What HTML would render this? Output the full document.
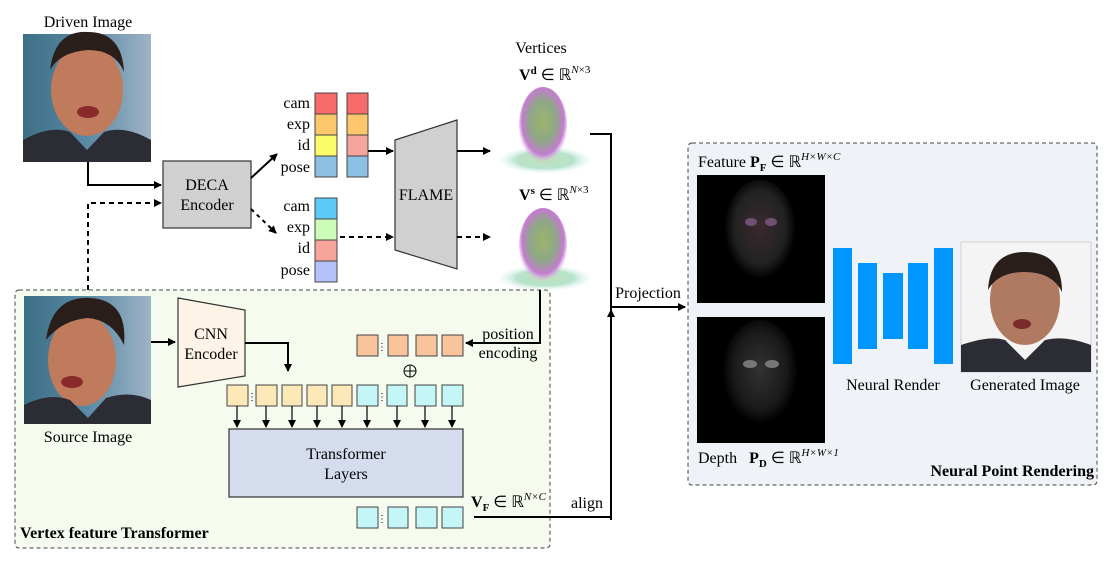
<!DOCTYPE html>
<html><head><meta charset="utf-8"><style>
html,body{margin:0;padding:0;background:#fff;}
svg{display:block;font-family:"Liberation Serif",serif;}
</style></head><body>
<svg width="1116" height="561" viewBox="0 0 1116 561" xmlns="http://www.w3.org/2000/svg">
<defs>
<marker id="ah" markerWidth="8" markerHeight="8" refX="7" refY="4" orient="auto" markerUnits="userSpaceOnUse"><path d="M0,0 L8,4 L0,8 z" fill="#000"/></marker>
<linearGradient id="bg1" x1="0" y1="0" x2="1" y2="0"><stop offset="0" stop-color="#3d6f86"/><stop offset="0.5" stop-color="#5a8aa5"/><stop offset="1" stop-color="#9fb3c6"/></linearGradient>
<radialGradient id="head" cx="0.5" cy="0.45" r="0.55"><stop offset="0" stop-color="#7a9a3a"/><stop offset="0.5" stop-color="#6a8a60"/><stop offset="0.8" stop-color="#b050c0"/><stop offset="1" stop-color="#e0a0e8" stop-opacity="0"/></radialGradient>
<radialGradient id="head2" cx="0.5" cy="0.5" r="0.5"><stop offset="0" stop-color="#70c060"/><stop offset="0.6" stop-color="#60c090"/><stop offset="1" stop-color="#c0f0e0" stop-opacity="0"/></radialGradient>
<radialGradient id="fface" cx="0.5" cy="0.45" r="0.5"><stop offset="0" stop-color="#3a2a30"/><stop offset="0.7" stop-color="#222"/><stop offset="1" stop-color="#000"/></radialGradient>
<radialGradient id="dface" cx="0.5" cy="0.45" r="0.5"><stop offset="0" stop-color="#333"/><stop offset="0.7" stop-color="#1a1a1a"/><stop offset="1" stop-color="#000"/></radialGradient>
</defs>

<rect x="15" y="290" width="535" height="258" rx="4" fill="#f5fbee" stroke="#444" stroke-dasharray="4,3"/>
<rect x="688" y="143" width="409" height="342" rx="4" fill="#eff2f7" stroke="#444" stroke-dasharray="4,3"/>

<text x="88" y="27" font-size="16" text-anchor="middle">Driven Image</text>
<rect x="23" y="34" width="128" height="128" fill="url(#bg1)"/>
<ellipse cx="87" cy="90" rx="36" ry="46" fill="#c07a5c"/>
<path d="M50,70 Q55,30 88,32 Q122,32 124,72 Q115,50 88,50 Q60,52 50,70z" fill="#2a1e1a"/>
<path d="M23,162 L23,140 Q50,125 70,132 L87,150 L104,132 Q125,125 151,140 L151,162z" fill="#2c2c35"/>
<ellipse cx="88" cy="112" rx="11" ry="6" fill="#8a2a2a"/>

<rect x="163" y="161" width="88" height="67" fill="#d0d0d0" stroke="#333" stroke-width="1.2"/>
<text x="207" y="190" font-size="16" text-anchor="middle">DECA</text>
<text x="207" y="210" font-size="16" text-anchor="middle">Encoder</text>
<path d="M88,162 V185 H161" fill="none" stroke="#000" stroke-width="2" marker-end="url(#ah)"/>
<path d="M88,290 V203 H161" fill="none" stroke="#000" stroke-width="2" stroke-dasharray="5,4" marker-end="url(#ah)"/>
<path d="M251,178 L277,154" fill="none" stroke="#000" stroke-width="2" marker-end="url(#ah)"/>
<path d="M251,209 L276,233" fill="none" stroke="#000" stroke-width="2" stroke-dasharray="4,4" marker-end="url(#ah)"/>

<g font-size="16" text-anchor="end">
<text x="310" y="108">cam</text><text x="310" y="129">exp</text><text x="310" y="150">id</text><text x="310" y="172">pose</text>
<text x="310" y="211">cam</text><text x="310" y="232">exp</text><text x="310" y="253">id</text><text x="310" y="275">pose</text>
</g>
<g stroke="#444" stroke-width="1">
<rect x="315" y="93" width="22" height="21" fill="#f86b6b"/><rect x="315" y="114" width="22" height="21" fill="#fdc86b"/><rect x="315" y="135" width="22" height="21" fill="#fcfc6b"/><rect x="315" y="156" width="22" height="21" fill="#8cc0e4"/>
<rect x="347" y="93" width="21" height="21" fill="#f86b6b"/><rect x="347" y="114" width="21" height="21" fill="#fdc86b"/><rect x="347" y="135" width="21" height="21" fill="#f4a49c"/><rect x="347" y="156" width="21" height="21" fill="#8cc0e4"/>
<rect x="315" y="198" width="22" height="21" fill="#5ccaf8"/><rect x="315" y="219" width="22" height="21" fill="#cdfbb8"/><rect x="315" y="240" width="22" height="21" fill="#f7a49b"/><rect x="315" y="261" width="22" height="21" fill="#b4c4fb"/>
</g>
<path d="M368,151 H393" stroke="#000" stroke-width="2" marker-end="url(#ah)"/>
<path d="M340,237 H393" stroke="#000" stroke-width="2" stroke-dasharray="5,4" marker-end="url(#ah)"/>

<path d="M395,140 L457,120 L457,269 L395,250z" fill="#d0d0d0" stroke="#333" stroke-width="1.2"/>
<text x="426" y="200" font-size="16" text-anchor="middle">FLAME</text>
<path d="M457,151 H490" stroke="#000" stroke-width="2" marker-end="url(#ah)"/>
<path d="M457,237 H490" stroke="#000" stroke-width="2" stroke-dasharray="5,4" marker-end="url(#ah)"/>

<text x="541" y="53" font-size="16" text-anchor="middle">Vertices</text>
<text x="519" y="80" font-size="16"><tspan font-weight="bold">V</tspan><tspan font-weight="bold" font-size="11" dy="-6">d</tspan><tspan dy="6"> ∈ ℝ</tspan><tspan font-size="11" dy="-7" font-style="italic">N</tspan><tspan font-size="11">×3</tspan></text>
<text x="519" y="200" font-size="16"><tspan font-weight="bold">V</tspan><tspan font-weight="bold" font-size="11" dy="-6">s</tspan><tspan dy="6"> ∈ ℝ</tspan><tspan font-size="11" dy="-7" font-style="italic">N</tspan><tspan font-size="11">×3</tspan></text>
<g opacity="0.75">
<ellipse cx="545" cy="160" rx="48" ry="14" fill="url(#head2)" opacity="0.6"/>
<ellipse cx="543" cy="125" rx="24" ry="38" fill="url(#head)"/>
<ellipse cx="545" cy="278" rx="48" ry="13" fill="url(#head2)" opacity="0.6"/>
<ellipse cx="543" cy="245" rx="24" ry="37" fill="url(#head)"/>
</g>

<path d="M590,134 H611 V520" fill="none" stroke="#000" stroke-width="2"/>
<path d="M611,330 V310" stroke="#000" stroke-width="2" marker-end="url(#ah)"/>
<path d="M611,307 H685" stroke="#000" stroke-width="2" marker-end="url(#ah)"/>
<text x="648" y="298" font-size="16" text-anchor="middle">Projection</text>
<path d="M474,517 H611" fill="none" stroke="#000" stroke-width="2"/>
<text x="587" y="508" font-size="16" text-anchor="middle">align</text>

<rect x="24" y="296" width="127" height="128" fill="url(#bg1)"/>
<ellipse cx="82" cy="360" rx="34" ry="46" fill="#c07a5c"/>
<path d="M46,340 Q52,296 90,298 Q128,300 124,345 Q112,320 88,318 Q62,320 46,340z" fill="#2a1e1a"/>
<path d="M24,424 L24,405 Q50,392 70,400 L88,418 L106,398 Q130,390 151,400 L151,424z" fill="#2c2c35"/>
<ellipse cx="72" cy="382" rx="11" ry="6" fill="#8a2a2a"/>
<text x="88" y="442" font-size="16" text-anchor="middle">Source Image</text>
<path d="M151,342 H175" stroke="#000" stroke-width="2" marker-end="url(#ah)"/>

<path d="M178,298 L245,310 L245,376 L178,387z" fill="#fdf3e7" stroke="#333" stroke-width="1.2"/>
<text x="211" y="339" font-size="16" text-anchor="middle">CNN</text>
<text x="211" y="359" font-size="16" text-anchor="middle">Encoder</text>
<path d="M245,343 H288 V371" fill="none" stroke="#000" stroke-width="2" marker-end="url(#ah)"/>

<path d="M540,290 V343 H466" fill="none" stroke="#000" stroke-width="2" marker-end="url(#ah)"/>
<text x="508" y="339" font-size="16" text-anchor="middle">position</text>
<text x="508" y="358" font-size="16" text-anchor="middle">encoding</text>
<g stroke="#444" stroke-width="1" fill="#f9c39b">
<rect x="357" y="335" width="21" height="21"/><rect x="388" y="335" width="20" height="21"/><rect x="416" y="335" width="21" height="21"/><rect x="442" y="335" width="21" height="21"/>
</g>
<text x="382" y="350" font-size="10" text-anchor="middle">⋮</text>
<circle cx="410" cy="371" r="6" fill="none" stroke="#000"/>
<path d="M404,371 H416 M410,365 V377" stroke="#000"/>

<g stroke="#444" stroke-width="1">
<rect x="227" y="385" width="21" height="21" fill="#fde9b8"/><rect x="256" y="385" width="21" height="21" fill="#fde9b8"/><rect x="282" y="385" width="20" height="21" fill="#fde9b8"/><rect x="307" y="385" width="20" height="21" fill="#fde9b8"/><rect x="332" y="385" width="20" height="21" fill="#fde9b8"/>
<rect x="357" y="385" width="21" height="21" fill="#c4f6f8"/><rect x="387" y="385" width="20" height="21" fill="#c4f6f8"/><rect x="415" y="385" width="21" height="21" fill="#c4f6f8"/><rect x="442" y="385" width="21" height="21" fill="#c4f6f8"/>
</g>
<text x="252" y="400" font-size="10" text-anchor="middle">⋮</text>
<text x="382" y="400" font-size="10" text-anchor="middle">⋮</text>
<g stroke="#000" stroke-width="1.2" marker-end="url(#ah)">
<path d="M237,406 V427"/><path d="M266,406 V427"/><path d="M292,406 V427"/><path d="M317,406 V427"/><path d="M342,406 V427"/><path d="M367,406 V427"/><path d="M397,406 V427"/><path d="M425,406 V427"/><path d="M452,406 V427"/>
</g>
<rect x="229" y="429" width="234" height="68" fill="#d5dcee" stroke="#333" stroke-width="1.2"/>
<text x="346" y="459" font-size="16" text-anchor="middle">Transformer</text>
<text x="346" y="479" font-size="16" text-anchor="middle">Layers</text>

<g stroke="#444" stroke-width="1" fill="#c4f6f8">
<rect x="357" y="507" width="21" height="21"/><rect x="388" y="507" width="20" height="21"/><rect x="416" y="507" width="21" height="21"/><rect x="442" y="507" width="21" height="21"/>
</g>
<text x="382" y="522" font-size="10" text-anchor="middle">⋮</text>
<text x="471" y="507" font-size="16"><tspan font-weight="bold">V</tspan><tspan font-weight="bold" font-size="11" dy="4">F</tspan><tspan dy="-4"> ∈ ℝ</tspan><tspan font-size="11" dy="-7" font-style="italic">N×C</tspan></text>
<text x="20" y="538" font-size="16" font-weight="bold">Vertex feature Transformer</text>

<text x="698" y="167" font-size="16">Feature <tspan font-weight="bold">P</tspan><tspan font-weight="bold" font-size="11" dy="4">F</tspan><tspan dy="-4"> ∈ ℝ</tspan><tspan font-size="11" dy="-7" font-style="italic">H×W×C</tspan></text>
<rect x="697" y="175" width="128" height="128" fill="#000"/>
<ellipse cx="760" cy="232" rx="36" ry="52" fill="url(#fface)"/>
<ellipse cx="751" cy="222" rx="6" ry="4" fill="#705070"/><ellipse cx="771" cy="222" rx="6" ry="4" fill="#705070"/>
<rect x="697" y="317" width="128" height="126" fill="#000"/>
<ellipse cx="760" cy="375" rx="38" ry="55" fill="url(#dface)"/>
<ellipse cx="750" cy="364" rx="7" ry="4" fill="#777"/><ellipse cx="772" cy="364" rx="7" ry="4" fill="#777"/>
<text x="698" y="463" font-size="16">Depth <tspan dx="8" font-weight="bold">P</tspan><tspan font-weight="bold" font-size="11" dy="4">D</tspan><tspan dy="-4"> ∈ ℝ</tspan><tspan font-size="11" dy="-7" font-style="italic">H×W×1</tspan></text>
<g fill="#0096ff">
<rect x="833" y="248" width="19" height="116"/><rect x="858" y="263" width="19" height="86"/><rect x="883" y="273" width="20" height="66"/><rect x="908" y="263" width="20" height="86"/><rect x="934" y="248" width="19" height="116"/>
</g>
<text x="893" y="390" font-size="16" text-anchor="middle">Neural Render</text>
<rect x="961" y="242" width="130" height="130" fill="#f4f4f4" stroke="#aaa" stroke-width="0.5"/>
<ellipse cx="1025" cy="300" rx="35" ry="45" fill="#b07a62"/>
<path d="M988,290 Q990,252 1025,252 Q1062,252 1062,292 Q1052,272 1025,272 Q998,272 988,290z" fill="#2a1e1a"/>
<path d="M961,372 L961,345 Q990,335 1005,340 L1025,360 L1045,340 Q1065,335 1091,345 L1091,372z" fill="#2c2c35"/>
<ellipse cx="1022" cy="324" rx="9" ry="5" fill="#7a2a2a"/>
<text x="1025" y="390" font-size="16" text-anchor="middle">Generated Image</text>
<text x="1094" y="476" font-size="16" font-weight="bold" text-anchor="end">Neural Point Rendering</text>
</svg>
</body></html>
